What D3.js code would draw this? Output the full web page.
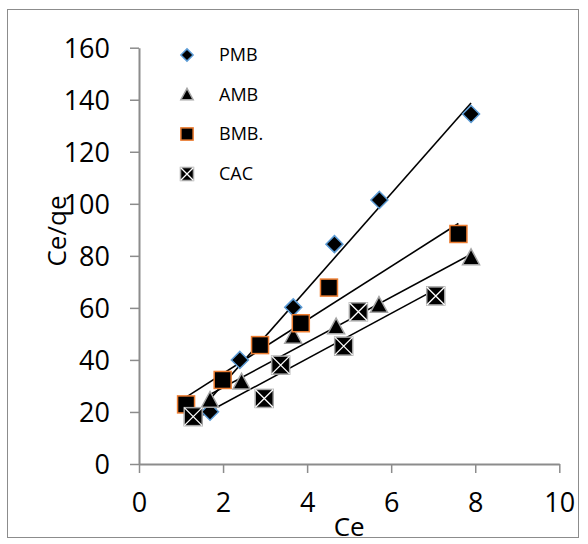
<!DOCTYPE html>
<html><head><meta charset="utf-8">
<script src="https://cdn.jsdelivr.net/npm/d3@7"></script>
<style>body{margin:0;background:#fff}svg{display:block}</style>
</head><body>
<script>
const seriesNames = ["PMB", "AMB", "BMB.", "CAC"];
const pmbX = [1.69, 2.40, 3.67, 4.65, 5.72, 7.90];
const pmbY = [20.1, 40.0, 60.2, 84.5, 101.5, 134.5];
const ambX = [1.69, 2.44, 3.67, 4.69, 5.71, 7.90];
const ambY = [24.6, 31.6, 49.2, 52.8, 61.1, 79.4];
const bmbX = [1.12, 1.99, 2.88, 3.85, 4.52, 7.60];
const bmbY = [22.9, 32.3, 45.7, 54.1, 67.8, 88.4];
const cacX = [1.29, 2.98, 3.37, 4.87, 5.22, 7.06];
const cacY = [18.2, 25.2, 38.0, 45.3, 58.5, 64.6];
const xTicks = [0, 2, 4, 6, 8, 10];
const yTicks = [0, 20, 40, 60, 80, 100, 120, 140, 160];

const W = 588, H = 544;
const svg = d3.select("body").append("svg").attr("width", W).attr("height", H);
const font = "'Open Sans', sans-serif";

svg.append("rect").attr("x", 7.5).attr("y", 9.5).attr("width", 571).attr("height", 528)
  .attr("fill", "#fff").attr("stroke", "#8c8c8c").attr("stroke-width", 1);

const x = d3.scaleLinear().domain([0, 10]).range([139, 559.3]);
const y = d3.scaleLinear().domain([0, 160]).range([464, 47.7]);

const axisColor = "#8c8c8c";
const gx = svg.append("g").attr("transform", `translate(0,${y(0)})`)
  .call(d3.axisBottom(x).tickValues(xTicks).tickSize(9).tickSizeOuter(0).tickPadding(20).tickFormat(d3.format("d")));
const gy = svg.append("g").attr("transform", `translate(${x(0)},0)`)
  .call(d3.axisLeft(y).tickValues(yTicks).tickSize(9).tickSizeOuter(0).tickPadding(20).tickFormat(d3.format("d")));
[gx, gy].forEach(g => {
  g.select(".domain").attr("stroke", axisColor).attr("stroke-width", 2);
  g.selectAll(".tick line").attr("stroke", axisColor).attr("stroke-width", 1.5);
  g.selectAll("text").attr("font-family", font).attr("font-size", 27).attr("fill", "#000");
});
gy.selectAll("text").attr("dy", "0.36em");

svg.append("text").attr("x", x(5)).attr("y", 536).attr("text-anchor", "middle")
  .attr("font-family", font).attr("font-size", 26).text("Ce");
svg.append("text").attr("transform", `translate(66,231) rotate(-90)`).attr("text-anchor", "middle")
  .attr("font-family", font).attr("font-size", 26).text("Ce/qe");

const series = [
  {name: seriesNames[0], xs: pmbX, ys: pmbY, type: "diamond"},
  {name: seriesNames[1], xs: ambX, ys: ambY, type: "triangle"},
  {name: seriesNames[2], xs: bmbX, ys: bmbY, type: "square"},
  {name: seriesNames[3], xs: cacX, ys: cacY, type: "xsquare"}
];

function regression(xs, ys) {
  const mx = d3.mean(xs), my = d3.mean(ys);
  let sxy = 0, sxx = 0;
  xs.forEach((v, i) => { sxy += (v - mx) * (ys[i] - my); sxx += (v - mx) ** 2; });
  const b = sxy / sxx; return {b, a: my - b * mx};
}

series.forEach(s => {
  const r = regression(s.xs, s.ys);
  const x0 = d3.min(s.xs), x1 = d3.max(s.xs);
  svg.append("line").attr("x1", x(x0)).attr("y1", y(r.a + r.b * x0))
    .attr("x2", x(x1)).attr("y2", y(r.a + r.b * x1))
    .attr("stroke", "#000").attr("stroke-width", 1.6);
});

function drawMarker(g, type, cx, cy, k) {
  if (type === "diamond") {
    const r = 8.5 * k;
    g.append("path").attr("d", `M${cx},${cy - r}L${cx + r},${cy}L${cx},${cy + r}L${cx - r},${cy}Z`)
      .attr("fill", "#000").attr("stroke", "#5b9bd5").attr("stroke-width", 1.5);
  } else if (type === "triangle") {
    const r = 8.5 * k;
    g.append("path").attr("d", `M${cx},${cy - r}L${cx + r},${cy + r * 0.85}L${cx - r},${cy + r * 0.85}Z`)
      .attr("fill", "#000").attr("stroke", "#a5a5a5").attr("stroke-width", 1.5);
  } else if (type === "square") {
    const r = 8.5 * k;
    g.append("rect").attr("x", cx - r).attr("y", cy - r).attr("width", 2 * r).attr("height", 2 * r)
      .attr("fill", "#000").attr("stroke", "#ed7d31").attr("stroke-width", 1.5);
  } else {
    const r = 9 * k;
    g.append("rect").attr("x", cx - r).attr("y", cy - r).attr("width", 2 * r).attr("height", 2 * r)
      .attr("fill", "#000").attr("stroke", "#a5a5a5").attr("stroke-width", 1.5);
    g.append("path").attr("d", `M${cx - r},${cy - r}L${cx + r},${cy + r}M${cx + r},${cy - r}L${cx - r},${cy + r}`)
      .attr("stroke", "#fff").attr("stroke-width", 1.3);
  }
}

const mg = svg.append("g");
series.forEach(s => {
  s.xs.forEach((v, i) => drawMarker(mg, s.type, x(v), y(s.ys[i]), 1));
});

const lg = svg.append("g");
const legY = [55, 94.5, 134, 174];
series.forEach((s, i) => {
  drawMarker(lg, s.type, 187, legY[i], 0.72);
  lg.append("text").attr("x", 219).attr("y", legY[i]).attr("dy", "0.36em")
    .attr("font-family", font).attr("font-size", 18).text(s.name);
});
</script>
</body></html>
